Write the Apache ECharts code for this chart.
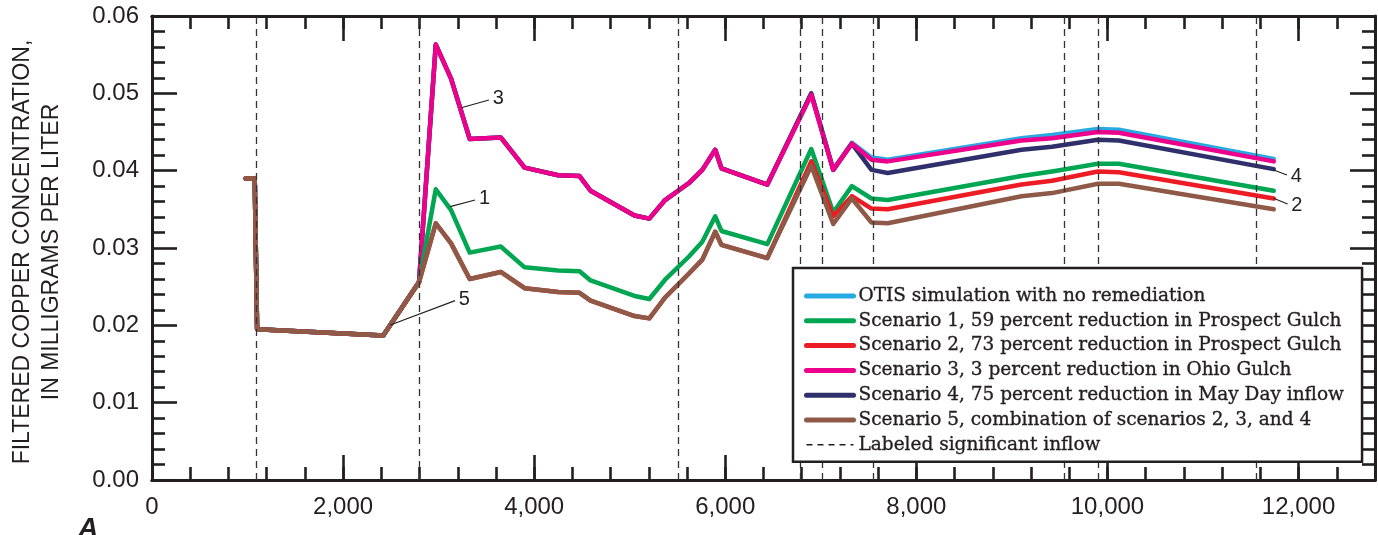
<!DOCTYPE html>
<html>
<head>
<meta charset="utf-8">
<script src="https://cdn.jsdelivr.net/npm/echarts@6/dist/echarts.min.js"></script>
<style>
  html, body { margin: 0; padding: 0; background: #ffffff; }
  #chart { width: 1378px; height: 535px; }
</style>
</head>
<body>
<div id="chart"></div>
<script>
// Distance downstream, in meters (shared breakpoints of the simulated profiles)
const distance = [980, 1075, 1100, 2420, 2795, 2970, 3130, 3325, 3650, 3900, 4250, 4475, 4590, 5050, 5205, 5370, 5620, 5760, 5895, 5960, 6440, 6900, 7130, 7325, 7530, 7700, 9100, 9420, 9900, 10120, 11740];

// Filtered copper concentration, in milligrams per liter
const otis      = [0.039, 0.039, 0.0195, 0.0187, 0.0256, 0.0563, 0.0519, 0.0441, 0.0443, 0.0404, 0.0394, 0.0393, 0.0374, 0.0342, 0.0338, 0.0362, 0.0384, 0.0401, 0.0427, 0.0403, 0.0382, 0.0499, 0.0401, 0.0436, 0.0417, 0.0414, 0.0442, 0.0446, 0.0454, 0.0453, 0.0415];
const scenario1 = [0.039, 0.039, 0.0195, 0.0187, 0.0256, 0.0376, 0.0349, 0.0294, 0.0302, 0.0275, 0.0271, 0.0270, 0.0258, 0.0238, 0.0234, 0.0259, 0.0289, 0.0308, 0.0341, 0.0322, 0.0305, 0.0428, 0.0346, 0.0380, 0.0364, 0.0362, 0.0393, 0.0399, 0.0409, 0.0409, 0.0374];
const scenario2 = [0.039, 0.039, 0.0195, 0.0187, 0.0256, 0.0332, 0.0306, 0.0260, 0.0269, 0.0248, 0.0243, 0.0242, 0.0232, 0.0212, 0.0209, 0.0236, 0.0267, 0.0285, 0.0321, 0.0304, 0.0287, 0.0412, 0.0341, 0.0367, 0.0351, 0.0350, 0.0382, 0.0387, 0.0399, 0.0398, 0.0364];
const scenario3 = [0.039, 0.039, 0.0195, 0.0187, 0.0256, 0.0563, 0.0519, 0.0441, 0.0443, 0.0404, 0.0394, 0.0393, 0.0374, 0.0342, 0.0338, 0.0362, 0.0384, 0.0401, 0.0427, 0.0403, 0.0382, 0.0498, 0.0401, 0.0435, 0.0414, 0.0412, 0.0439, 0.0442, 0.0450, 0.0449, 0.0412];
const scenario4 = [0.039, 0.039, 0.0195, 0.0187, 0.0256, 0.0563, 0.0519, 0.0441, 0.0443, 0.0404, 0.0394, 0.0393, 0.0374, 0.0342, 0.0338, 0.0362, 0.0384, 0.0401, 0.0427, 0.0403, 0.0382, 0.0500, 0.0401, 0.0435, 0.0401, 0.0397, 0.0427, 0.0431, 0.0440, 0.0439, 0.0402];
const scenario5 = [0.039, 0.039, 0.0195, 0.0187, 0.0256, 0.0332, 0.0306, 0.0260, 0.0269, 0.0248, 0.0243, 0.0242, 0.0232, 0.0212, 0.0209, 0.0236, 0.0267, 0.0285, 0.0321, 0.0304, 0.0287, 0.0406, 0.0331, 0.0364, 0.0333, 0.0332, 0.0367, 0.0371, 0.0383, 0.0383, 0.0350];

// Locations of labeled significant inflows
const inflows = [1090, 2800, 5510, 6780, 7010, 7545, 9550, 9900, 11560];

// Scenario number callouts: leader start, leader end, text
const callouts = [
  { from: [3237, 0.04814], to: [3526, 0.04914], text: '3' },
  { from: [3120, 0.03534], to: [3381, 0.03621], text: '1' },
  { from: [2494, 0.02004], to: [3172, 0.02319], text: '5' },
  { from: [11739, 0.04009], to: [11879, 0.03944], text: '4' },
  { from: [11739, 0.03643], to: [11885, 0.03569], text: '2' }
];

const names = [
  'OTIS simulation with no remediation',
  'Scenario 1, 59 percent reduction in Prospect Gulch',
  'Scenario 2, 73 percent reduction in Prospect Gulch',
  'Scenario 3, 3 percent reduction in Ohio Gulch',
  'Scenario 4, 75 percent reduction in May Day inflow',
  'Scenario 5, combination of scenarios 2, 3, and 4',
  'Labeled significant inflow'
];

const ink = '#231f20';
const axisFont = 'Liberation Sans, Arial, Helvetica, sans-serif';
const zip = (ys) => distance.map((x, i) => [x, ys[i]]);

function profile(name, ys, color) {
  return {
    name: name,
    type: 'line',
    data: zip(ys),
    symbol: 'none',
    lineStyle: { color: color, width: 4.5, cap: 'round', join: 'round' },
    itemStyle: { color: color },
    emphasis: { disabled: true },
    silent: true,
    z: 3
  };
}

function xAxisDef(position, interval, tickLen, withLabels) {
  return {
    type: 'value', min: 0, max: 12800, interval: interval, position: position,
    axisLine: { show: true, onZero: false, lineStyle: { color: ink, width: 3 } },
    axisTick: { show: true, inside: true, length: tickLen, lineStyle: { color: ink, width: 2.6 } },
    axisLabel: withLabels ? {
      show: true, margin: 15, color: ink, fontFamily: axisFont, fontSize: 24,
      showMaxLabel: true,
      formatter: (v) => (v % 2000 === 0 && v <= 12000) ? v.toLocaleString('en-US') : ''
    } : { show: false },
    splitLine: { show: false }
  };
}

function yAxisDef(position, withLabels) {
  const ax = {
    type: 'value', min: 0, max: 0.06, interval: 0.01, position: position,
    axisLine: { show: true, onZero: false, lineStyle: { color: ink, width: 3 } },
    axisTick: { show: true, inside: true, length: 25, lineStyle: { color: ink, width: 2.6 } },
    minorTick: { show: true, splitNumber: 5, length: 13, lineStyle: { color: ink, width: 2.6 } },
    axisLabel: withLabels ? {
      show: true, margin: 13, color: ink, fontFamily: axisFont, fontSize: 24,
      formatter: (v) => v.toFixed(2)
    } : { show: false },
    splitLine: { show: false }
  };
  if (withLabels) {
    ax.name = 'FILTERED COPPER CONCENTRATION,\nIN MILLIGRAMS PER LITER';
    ax.nameLocation = 'middle';
    ax.nameGap = 86;
    ax.nameTextStyle = { color: ink, fontFamily: axisFont, fontSize: 23, lineHeight: 29, align: 'center', padding: [0, 8, 0, 0] };
  }
  return ax;
}

// Legend entries: thick coloured strokes for the profiles, a thin dashed stroke for inflows
const legendEntries = names.map((n, i) => (i < 6
  ? { name: n, lineStyle: { width: 5, type: 'solid', cap: 'round' } }
  : { name: n, lineStyle: { width: 1.4, type: [6, 5] } }));

const chart = echarts.init(document.getElementById('chart'), null, { renderer: 'canvas' });

chart.setOption({
  animation: false,
  backgroundColor: '#ffffff',
  grid: { left: 147.5, right: 3, top: 16, bottom: 55, containLabel: false },
  xAxis: [
    xAxisDef('bottom', 2000, 25, true),
    xAxisDef('bottom', 400, 13, false),
    xAxisDef('top', 2000, 25, false),
    xAxisDef('top', 400, 13, false)
  ],
  yAxis: [yAxisDef('left', true), yAxisDef('right', false)],
  legend: {
    data: legendEntries,
    orient: 'vertical',
    left: 793, top: 268,
    padding: [17, 18, 6, 11],
    itemWidth: 47, itemHeight: 14, itemGap: 2.8,
    backgroundColor: '#ffffff',
    borderColor: ink, borderWidth: 2.5,
    selectedMode: false,
    itemStyle: { color: 'rgba(0,0,0,0)', borderColor: 'rgba(0,0,0,0)', borderWidth: 0, opacity: 0 },
    textStyle: {
      color: ink, fontFamily: 'DejaVu Serif, Liberation Serif, serif', fontSize: 18.5, lineHeight: 22,
      textBorderColor: ink, textBorderWidth: 0.35
    },
    z: 10
  },
  series: [
    profile(names[0], otis, '#27aae1'),
    profile(names[4], scenario4, '#2e2f6b'),
    profile(names[3], scenario3, '#ec008c'),
    profile(names[1], scenario1, '#00a651'),
    profile(names[2], scenario2, '#ed1c24'),
    profile(names[5], scenario5, '#8e5a47'),
    {
      name: names[6],
      type: 'line',
      data: [],
      symbol: 'none',
      lineStyle: { color: ink, width: 1.3, type: [6, 5] },
      itemStyle: { color: ink },
      silent: true,
      z: 1,
      markLine: {
        silent: true,
        symbol: ['none', 'none'],
        animation: false,
        label: { show: false },
        lineStyle: { color: '#333333', width: 1.3, type: [7, 5] },
        data: inflows.map((x) => ({ xAxis: x }))
      }
    },
    {
      name: 'callouts',
      type: 'line',
      data: [],
      symbol: 'none',
      silent: true,
      z: 4,
      markLine: {
        silent: true,
        symbol: ['none', 'none'],
        animation: false,
        lineStyle: { color: ink, width: 1.2, type: 'solid' },
        label: { show: true, position: 'end', distance: 4, color: ink, fontFamily: axisFont, fontSize: 20 },
        emphasis: { disabled: true },
        data: callouts.map((c) => [
          { coord: c.from },
          { coord: c.to, label: { formatter: c.text } }
        ])
      }
    }
  ],
  graphic: [
    {
      type: 'text',
      left: 78, top: 515,
      style: { text: 'A', fill: ink, font: 'italic bold 28px Liberation Sans, Arial, sans-serif' }
    }
  ]
});
</script>
</body>
</html>
